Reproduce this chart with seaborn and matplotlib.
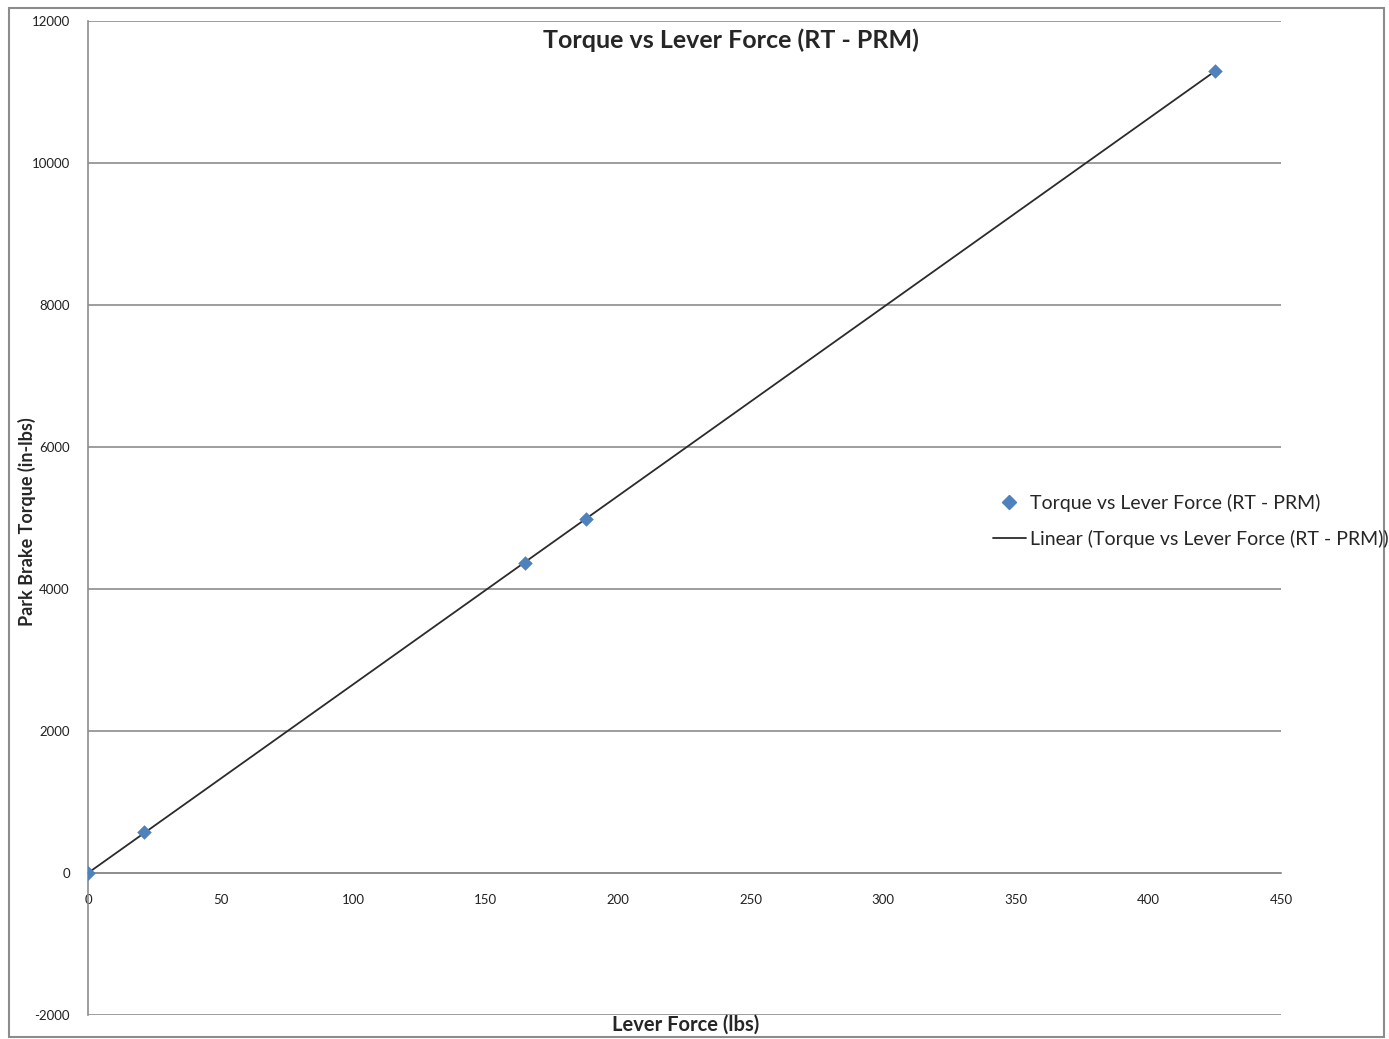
# Torque vs Lever Force (RT - PRM) - grafico de dispersao com tendencia linear

import matplotlib.pyplot as plt
import pandas as pd
import seaborn as sns
from matplotlib.lines import Line2D
from matplotlib.patches import Rectangle

# dados
forca_alavanca = [0, 21, 165, 188, 425]          # lbs
torque = [0, 575, 4360, 4990, 11300]             # in-lbs
rotulo_serie = 'Torque vs Lever Force (RT - PRM)'
rotulo_linear = 'Linear (Torque vs Lever Force (RT - PRM))'
x_ticks = [0, 50, 100, 150, 200, 250, 300, 350, 400, 450]
y_ticks = [-2000, 0, 2000, 4000, 6000, 8000, 10000, 12000]

df = pd.DataFrame({'forca': forca_alavanca, 'torque': torque})

sns.set_style('white')
plt.rcParams['font.family'] = ['Lato', 'DejaVu Sans']
plt.rcParams['axes.unicode_minus'] = False

fig = plt.figure(figsize=(13.89, 10.39), dpi=100)
ax = fig.add_axes([88 / 1389, 1 - 1015 / 1039, (1281 - 88) / 1389, (1015 - 21) / 1039])

azul = '#4F81BD'
cinza = '#8c8c8c'

# linha de tendencia (regressao linear)
sns.regplot(
    data=df, x='forca', y='torque', ax=ax, scatter=False, ci=None,
    line_kws={'color': '#2b2b2b', 'lw': 1.3, 'zorder': 3},
)
# pontos
sns.scatterplot(
    data=df, x='forca', y='torque', ax=ax, marker='D', s=55,
    color=azul, edgecolor=azul, linewidth=0, zorder=4,
)

ax.set_xlim(0, 450)
ax.set_ylim(-2000, 12000)
ax.set_xticks(x_ticks)
ax.set_yticks(y_ticks)
ax.yaxis.grid(True, color=cinza, lw=1.2)
ax.set_axisbelow(True)

ax.spines['top'].set_visible(False)
ax.spines['right'].set_visible(False)
ax.spines['bottom'].set_position(('data', 0))
for s in ['left', 'bottom']:
    ax.spines[s].set_color(cinza)
    ax.spines[s].set_linewidth(1.2)
ax.tick_params(axis='both', direction='out', length=5, width=1.2, color=cinza,
               labelsize=9.5, labelcolor='#222222', pad=8)
ax.tick_params(axis='x', pad=10)

ax.set_xlabel('')
ax.set_ylabel('')
fig.text(686 / 1389, 1 - 1025 / 1039, 'Lever Force (lbs)', ha='center', va='center',
         fontsize=14.5, fontweight='bold')
fig.text(27 / 1389, 1 - 522 / 1039, 'Park Brake Torque (in-lbs)', ha='center', va='center',
         rotation=90, fontsize=13, fontweight='bold')
fig.text(731 / 1389, 1 - 40 / 1039, rotulo_serie, ha='center', va='center',
         fontsize=18, fontweight='bold')

# legenda
alcas = [
    Line2D([], [], marker='D', color=azul, ls='none', markersize=7),
    Line2D([], [], color='#2b2b2b', lw=1.3),
]
fig.legend(alcas, [rotulo_serie, rotulo_linear], loc='center left',
           bbox_to_anchor=(975 / 1389, 1 - 521 / 1039), frameon=False,
           fontsize=14, labelspacing=0.9, handlelength=1.7, handletextpad=0.25)

# moldura externa
fig.patches.append(Rectangle((9 / 1389, 1 - 1037 / 1039), 1375 / 1389, 1029 / 1039,
                             transform=fig.transFigure, fill=False,
                             edgecolor=cinza, lw=1.5))

fig.savefig('out.png', dpi=100)
